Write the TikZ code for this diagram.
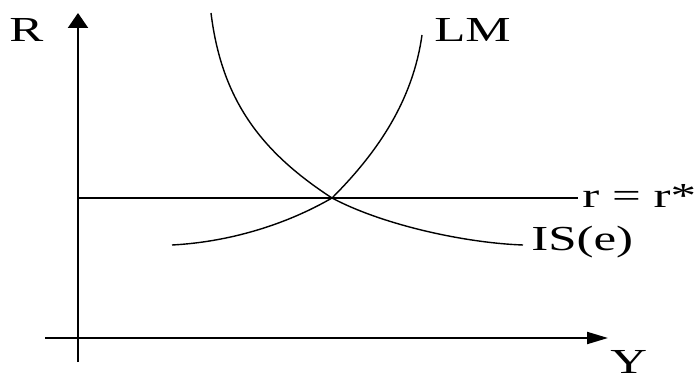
\documentclass[tikz,border=0pt]{standalone}
\usepackage{fontspec}
\setmainfont{Liberation Serif}
\newfontfamily\lblfont[FakeStretch=1.45]{Liberation Serif}
\usetikzlibrary{arrows.meta, positioning}

\begin{document}
\begin{tikzpicture}[x=0.02cm, y=0.02cm,
    axis/.style={line width=1.2pt},
    curve/.style={line width=0.8pt},
    lbl/.style={font=\lblfont\fontsize{20}{24}\selectfont, inner sep=0pt, anchor=base west}]
    \useasboundingbox (0,0) rectangle (699,372);

    % Axes
    \coordinate (ybot) at (78,10);
    \coordinate (ytop) at (78,359);
    \coordinate (xleft) at (45,34);
    \coordinate (xright) at (608,34);
    \draw[axis, -{Triangle[length=0.3cm, width=0.4cm]}] (ybot) -- (ytop);
    \draw[axis, -{Triangle[length=0.42cm, width=0.24cm]}] (xleft) -- (xright);
    \node[lbl] (R) at (9,330) {R};
    \node[lbl] (Y) at (610,-1) {Y};

    % Horizontal line r = r*
    \coordinate (r0) at (78,174);
    \node[lbl] (rstar) at (582,165) {r = r*};
    \draw[line width=0.9pt, shorten >=2pt] (r0) -- (r0 -| rstar.west);

    % Equilibrium point
    \coordinate (E) at (332,174);

    % LM curve
    \coordinate (lm0) at (172,127);
    \coordinate (lm1) at (422,337);
    \draw[curve] (lm0) to[out=3, in=210, looseness=0.85] (E)
                 to[out=45, in=-98, looseness=0.9] (lm1);
    \node[lbl] (LM) at (434,330) {LM};

    % IS curve
    \coordinate (is0) at (211,359);
    \coordinate (is1) at (523,127);
    \draw[curve] (is0) to[out=-83, in=147] (E)
                 to[out=-28, in=178, looseness=0.75] (is1);
    \node[lbl] (IS) at (531,122) {IS(e)};
\end{tikzpicture}
\end{document}
